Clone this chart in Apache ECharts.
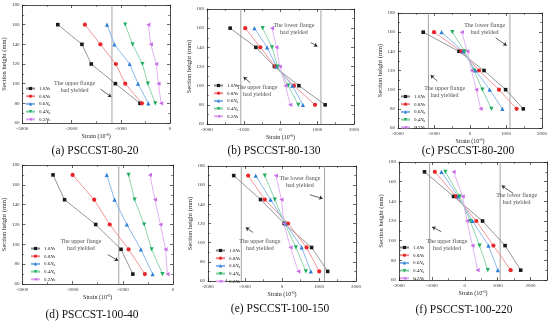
<!DOCTYPE html>
<html><head><meta charset="utf-8">
<script src="https://cdn.jsdelivr.net/npm/echarts@6/dist/echarts.min.js"></script>
<style>html,body{margin:0;padding:0;background:#fff}#c{width:550px;height:324px}</style>
</head><body><div id="c"></div>
<script>
// ---- data ----
const seriesNames = ['1.0Nu','0.8Nu','0.6Nu','0.4Nu','0.2Nu'];
const captions = ['(a) PSCCST-80-20','(b) PSCCST-80-130','(c) PSCCST-80-200','(d) PSCCST-100-40','(e) PSCCST-100-150','(f) PSCCST-100-220'];
const heights80 = [160,140,120,100,80];
const heights100 = [170,145,120,95,70];

const a10 = [-2280,-1790,-1600,-1110,-610];
const a08 = [-1730,-1415,-1100,-910,-570];
const a06 = [-1280,-1130,-820,-650,-440];
const a04 = [-910,-760,-560,-450,-300];
const a02 = [-440,-390,-280,-235,-180];

const b10 = [-1370,-670,-165,500,1215];
const b08 = [-960,-550,-140,365,940];
const b06 = [-710,-365,-110,320,610];
const b04 = [-485,-230,-80,210,485];
const b02 = [-230,-110,-20,135,265];

const c10 = [-1300,-305,390,990,1480];
const c08 = [-1000,-240,250,805,1295];
const c06 = [-790,-195,155,545,900];
const c04 = [-490,-150,110,345,595];
const c02 = [-230,-75,45,175,295];

const d10 = [-2390,-2160,-1540,-1035,-800];
const d08 = [-2000,-1570,-1260,-885,-560];
const d06 = [-1320,-1165,-920,-640,-405];
const d04 = [-885,-765,-575,-425,-210];
const d02 = [-460,-360,-250,-150,-110];

const e10 = [-1305,-580,60,800,1235];
const e08 = [-915,-465,165,665,1005];
const e06 = [-710,-310,95,530,780];
const e04 = [-465,-195,75,375,645];
const e02 = [-165,-15,50,230,440];

const f10 = [-1225,-340,540,1225,1700];
const f08 = [-910,-265,350,870,1395];
const f06 = [-710,-205,235,720,1005];
const f04 = [-590,-155,165,450,700];
const f02 = [-340,-65,65,235,390];

const yieldA = [-1180];
const yieldB = [-1080, 1100];
const yieldC = [-1155, 1110];
const yieldD = [-1080];
const yieldE = [-1100, 1150];
const yieldF = [-1070, 1075];

const xRangeA = [-3000, 0];
const xRangeB = [-2000, 2000];
const xRangeC = [-2000, 2000];
const xRangeD = [-3000, 0];
const xRangeE = [-2000, 2000];
const xRangeF = [-2000, 2500];
const yRange = [60, 180];

const upperText = 'The upper flange\nhad yielded';
const lowerText = 'The lower flange\nhad yielded';
// annotation anchors (data coords): [textX, textY, arrowFromX, arrowFromY, arrowToX, arrowToY]
const upperA = [-1940, 97, -1415, 94.5, -1193, 86.4];
const upperB = [-640, 94, -822, 103, -1005, 109];
const lowerB = [365, 159, 822, 145, 1005, 141];
const upperC = [-705, 98, -907, 109, -1093, 115];
const lowerC = [407, 163, 713, 154, 1019, 146];
const upperD = [-1834, 99.5, -1297, 89.6, -1094, 83.5];
const upperE = [-600, 98, -781, 110.6, -980, 115.8];
const lowerE = [483, 163, 754, 150, 1097, 146];
const upperF = [-540, 96, -710, 109, -992, 114];
const lowerF = [1577, 142, 1476, 148, 1123, 156];

// ---- layout / style ----
const FONT = 'Liberation Serif';
const grids = [
  {left:22, top:5, width:148, height:118},
  {left:207, top:9, width:147, height:115},
  {left:398, top:13, width:144, height:115},
  {left:21, top:165, width:152, height:119},
  {left:208, top:166, width:148, height:115},
  {left:399, top:162, width:148, height:118}
];
const captionPos = [[95,151],[274,151],[468,151],[92,315],[280,309],[464,310]];
const legendPos = [[25,86],[213,83],[400,94],[30,246],[215,248],[399,245]];
const markerColors = ['#1a1a1a','#e8262a','#2f7fd6','#1fae5f','#c86ee6'];
const lineColors = ['#8a8a8a','#f08a8a','#7fb0e8','#7fd0a2','#e0a8f0'];
const symbols = ['rect','circle','triangle','triangle','triangle'];
const rotates = [0,0,0,180,90];

const panels = [
  {xr:xRangeA, h:heights80, s:[a10,a08,a06,a04,a02], yl:yieldA, ann:[[upperText,upperA]]},
  {xr:xRangeB, h:heights80, s:[b10,b08,b06,b04,b02], yl:yieldB, ann:[[upperText,upperB],[lowerText,lowerB]]},
  {xr:xRangeC, h:heights80, s:[c10,c08,c06,c04,c02], yl:yieldC, ann:[[upperText,upperC],[lowerText,lowerC]]},
  {xr:xRangeD, h:heights100, s:[d10,d08,d06,d04,d02], yl:yieldD, ann:[[upperText,upperD]]},
  {xr:xRangeE, h:heights100, s:[e10,e08,e06,e04,e02], yl:yieldE, ann:[[upperText,upperE],[lowerText,lowerE]]},
  {xr:xRangeF, h:heights100, s:[f10,f08,f06,f04,f02], yl:yieldF, ann:[[upperText,upperF],[lowerText,lowerF]]}
];

const axisLine = {show:true, onZero:false, lineStyle:{color:'#222', width:0.8}};
const tick = {show:true, inside:true, length:3, lineStyle:{color:'#222', width:0.7}};
const minor = {show:true, splitNumber:2, length:1.8, lineStyle:{color:'#222', width:0.6}};
const lbl = {fontFamily:FONT, fontSize:5, color:'#333', margin:3, formatter: v => String(v)};

const xAxis = [], yAxis = [], series = [], legend = [], title = [];
panels.forEach((p, i) => {
  xAxis.push({type:'value', gridIndex:i, min:p.xr[0], max:p.xr[1], interval:1000, position:'bottom',
    axisLine, axisTick:tick, minorTick:minor, splitLine:{show:false},
    axisLabel:Object.assign({}, lbl, {showMaxLabel: p.xr[1] % 1000 === 0}),
    name:'{a|Strain (10}{b|-6}{a|)}', nameLocation:'middle', nameGap:10,
    nameTextStyle:{rich:{a:{fontFamily:FONT,fontSize:6,color:'#222'}, b:{fontFamily:FONT,fontSize:4,color:'#222',verticalAlign:'top'}}}});
  xAxis.push({type:'value', gridIndex:i, min:p.xr[0], max:p.xr[1], interval:1000, position:'top',
    axisLine, axisTick:tick, minorTick:minor, splitLine:{show:false}, axisLabel:{show:false}});
  yAxis.push({type:'value', gridIndex:i, min:yRange[0], max:yRange[1], interval:20, position:'left',
    axisLine, axisTick:tick, minorTick:minor, splitLine:{show:false}, axisLabel:lbl,
    name:'Section height (mm)', nameLocation:'middle', nameGap:13,
    nameTextStyle:{fontFamily:FONT, fontSize:6.5, color:'#222'}});
  yAxis.push({type:'value', gridIndex:i, min:yRange[0], max:yRange[1], interval:20, position:'right',
    axisLine, axisTick:tick, minorTick:minor, splitLine:{show:false}, axisLabel:{show:false}});

  // yield lines
  p.yl.forEach(x => {
    series.push({type:'line', name:'yield'+i, xAxisIndex:2*i, yAxisIndex:2*i,
      data:[[x, yRange[0]], [x, yRange[1]]], symbol:'none', silent:true, animation:false, z:1,
      lineStyle:{color:'#9a9a9a', width:0.9}});
  });

  p.s.forEach((vals, k) => {
    series.push({type:'line', name:seriesNames[k], xAxisIndex:2*i, yAxisIndex:2*i,
      data: vals.map((v, j) => [v, p.h[j]]),
      symbol:symbols[k], symbolRotate:rotates[k], symbolSize:k===0?3.6:4.2,
      itemStyle:{color:markerColors[k]}, lineStyle:{color:lineColors[k], width:0.9},
      z: 3, silent:true, animation:false});
  });
  // annotations + arrows
  const annData = p.ann.map(a => ({value:[a[1][0], a[1][1]], label:{formatter:a[0]}}));
  const mlData = p.ann.map(a => {
    const c = a[1];
    return [{coord:[c[2], c[3]]}, {coord:[c[4], c[5]]}];
  });
  series.push({type:'scatter', name:'annot'+i, xAxisIndex:2*i, yAxisIndex:2*i, symbolSize:0.01,
    data:annData, silent:true, animation:false, z:2,
    label:{show:true, position:'inside', fontFamily:FONT, fontSize:6, lineHeight:7, color:'#222', align:'center'},
    markLine:{silent:true, animation:false, label:{show:false}, symbol:['none','arrow'], symbolSize:3.5,
      lineStyle:{color:'#222', width:0.7, type:'solid'}, data:mlData}});

  legend.push({orient:'vertical', left:legendPos[i][0], top:legendPos[i][1], data:seriesNames,
    itemWidth:9, itemHeight:4, itemGap:2.2, padding:0, selectedMode:false,
    textStyle:{fontFamily:FONT, fontSize:5, color:'#222', padding:[0,0,0,-1],
      rich:{t:{fontFamily:FONT,fontSize:5,color:'#222'}, n:{fontFamily:FONT,fontSize:5,fontStyle:'italic',color:'#222'}, s:{fontFamily:FONT,fontSize:3.5,color:'#222',verticalAlign:'bottom', padding:[2,0,0,0]}}},
    formatter: n => `{t|${n.slice(0,3)}}{n|N}{s|${n.slice(4)}}`});

  title.push({text:captions[i], left:captionPos[i][0], top:captionPos[i][1], textAlign:'center', textVerticalAlign:'middle',
    padding:0, textStyle:{fontFamily:FONT, fontSize:11.5, fontWeight:'normal', color:'#111'}});
});

const chart = echarts.init(document.getElementById('c'), null, {renderer:'canvas'});
chart.setOption({animation:false, backgroundColor:'#fff', grid:grids, xAxis, yAxis, series, legend, title});
</script></body></html>
